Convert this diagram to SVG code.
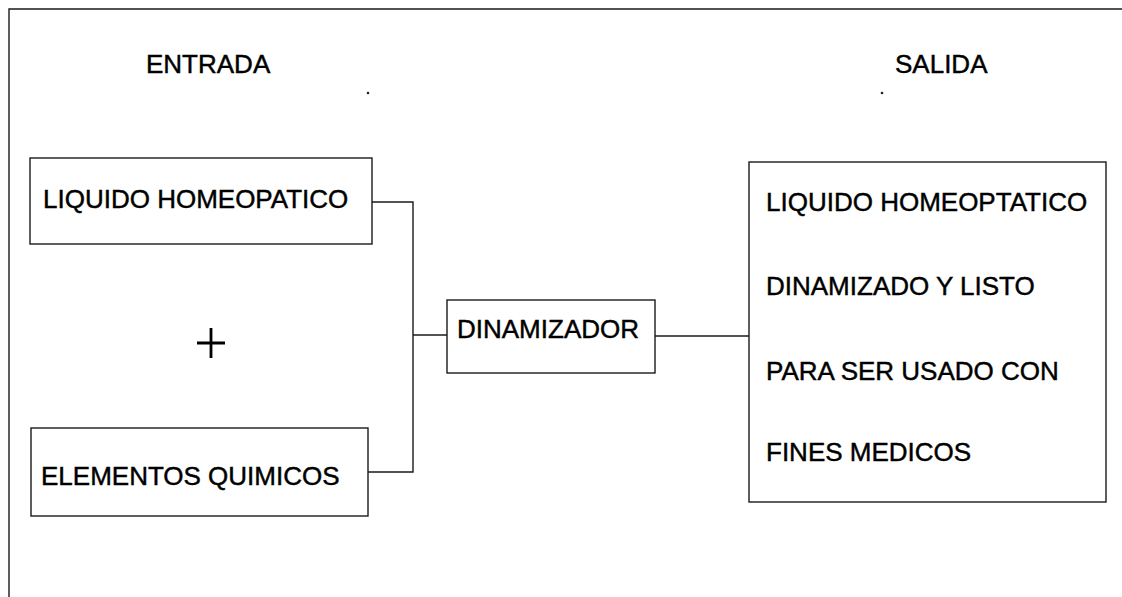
<svg xmlns="http://www.w3.org/2000/svg" width="1122" height="597" viewBox="0 0 1122 597">
<style>
.box{fill:none;stroke:#1a1a1a;stroke-width:1.4}
.ln{fill:none;stroke:#1a1a1a;stroke-width:1.4}
.t{font-family:"Liberation Sans",Arial,sans-serif;font-size:26px;fill:#000;stroke:#000;stroke-width:0.45}
</style>
<rect width="1122" height="597" fill="#fff"/>
<g id="frame">
<path class="ln" d="M9 597 V9 H1122" stroke-width="1.7"/>
</g>
<g id="headers">
<text class="t" x="146" y="73">ENTRADA</text>
<text class="t" x="895" y="73">SALIDA</text>
<circle cx="368" cy="93" r="1.3" fill="#222"/>
<circle cx="882" cy="93" r="1.3" fill="#222"/>
</g>
<g id="connectors">
<path class="ln" d="M372 202 H413 V472 H368"/>
<path class="ln" d="M413 335 H447"/>
<path class="ln" d="M655 336 H749"/>
</g>
<g id="liquido">
<rect class="box" x="30" y="158" width="342" height="86"/>
<text class="t" x="43" y="208">LIQUIDO HOMEOPATICO</text>
</g>
<g id="plus">
<path d="M197 343 H225 M211 328 V358" stroke="#000" stroke-width="2.8" fill="none"/>
</g>
<g id="elementos">
<rect class="box" x="31" y="428" width="337" height="88"/>
<text class="t" x="41" y="485">ELEMENTOS QUIMICOS</text>
</g>
<g id="dinamizador">
<rect class="box" x="447" y="300" width="208" height="73"/>
<text class="t" x="457" y="338">DINAMIZADOR</text>
</g>
<g id="salida">
<rect class="box" x="749" y="162" width="357" height="340"/>
<text class="t" x="766" y="211">LIQUIDO HOMEOPTATICO</text>
<text class="t" x="766" y="295">DINAMIZADO Y LISTO</text>
<text class="t" x="766" y="380">PARA SER USADO CON</text>
<text class="t" x="766" y="461">FINES MEDICOS</text>
</g>
</svg>
